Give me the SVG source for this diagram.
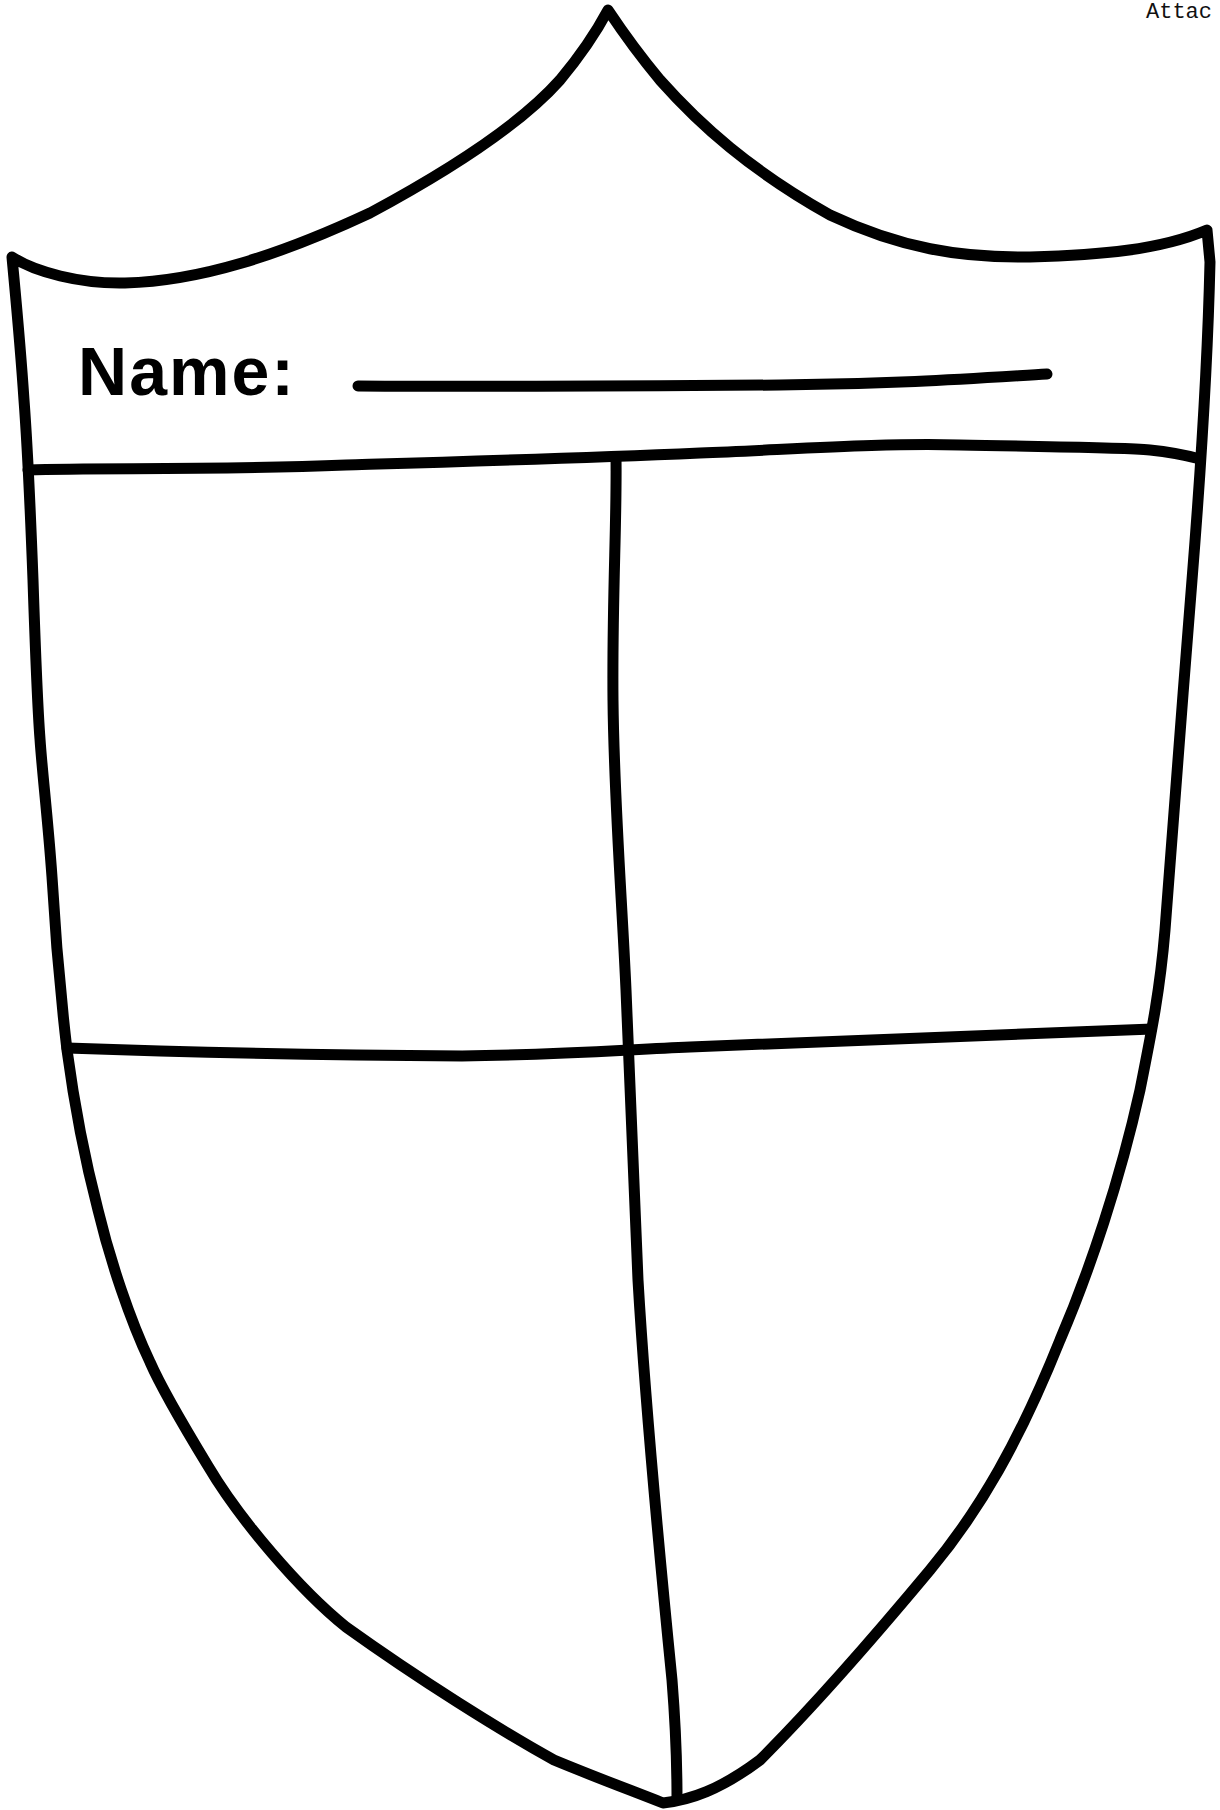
<svg xmlns="http://www.w3.org/2000/svg" width="1220" height="1810" viewBox="0 0 1220 1810">
<style>
.ln{fill:none;stroke:#000;stroke-width:11;stroke-linecap:round;stroke-linejoin:round}
.name{font-family:"Liberation Sans",Arial,sans-serif;font-weight:bold;font-size:68px;fill:#000}
.hdr{font-family:"Liberation Mono","Courier New",monospace;font-size:22px;fill:#111}
</style>
<rect width="1220" height="1810" fill="#fff"/>
<text class="hdr" x="1146" y="18">Attac</text>
<g id="shield">
<path class="ln" d="M12,257 C35,272 80,284 125,283 C200,281 280,255 370,213 C450,170 520,125 560,80 C585,50 600,25 608,10 C618,25 635,50 660,80 C700,125 750,170 830,215 C900,248 960,258 1030,257 C1100,255 1160,250 1207,230 L1210,262 C1208,350 1200,480 1192,580 C1182,700 1172,850 1165,930 C1160,990 1152,1030 1140,1090 C1120,1180 1090,1270 1060,1340 C1020,1440 980,1510 930,1570 C880,1630 820,1700 760,1760 C720,1790 690,1800 663,1803 C630,1790 590,1775 554,1760 C500,1730 420,1680 346,1627 C300,1590 240,1520 208,1466 C180,1420 160,1385 150,1362 C130,1320 110,1260 98,1210 C85,1160 75,1110 67,1050 C60,990 55,930 52,877 C48,820 42,770 40,739 C37,700 35,640 33,580 C30,500 27,440 24,400 C20,340 15,290 12,257 Z"/>
</g>
<g id="dividers">
<path class="ln" d="M28,470 C100,467 200,471 346,465 C450,462 560,459 700,453 C800,449 880,443 960,445 C1050,447 1120,447 1150,450 C1170,452 1185,455 1200,459"/>
<path class="ln" d="M616,457 C617,520 612,600 613,700 C614,800 622,900 626,990 C629,1060 632,1150 638,1280 C645,1400 660,1560 672,1680 C676,1730 677,1770 677,1798"/>
<path class="ln" d="M67,1048 C150,1051 300,1055 462,1056 C560,1055 620,1050 690,1047 C850,1041 1000,1036 1150,1029"/>
</g>
<g id="name-field">
<text class="name" x="78" y="395" textLength="216" lengthAdjust="spacing">Name:</text>
<path class="ln" stroke-width="12" d="M358,386 C500,387 650,386 780,385 C900,384 980,378 1047,374"/>
</g>
</svg>
